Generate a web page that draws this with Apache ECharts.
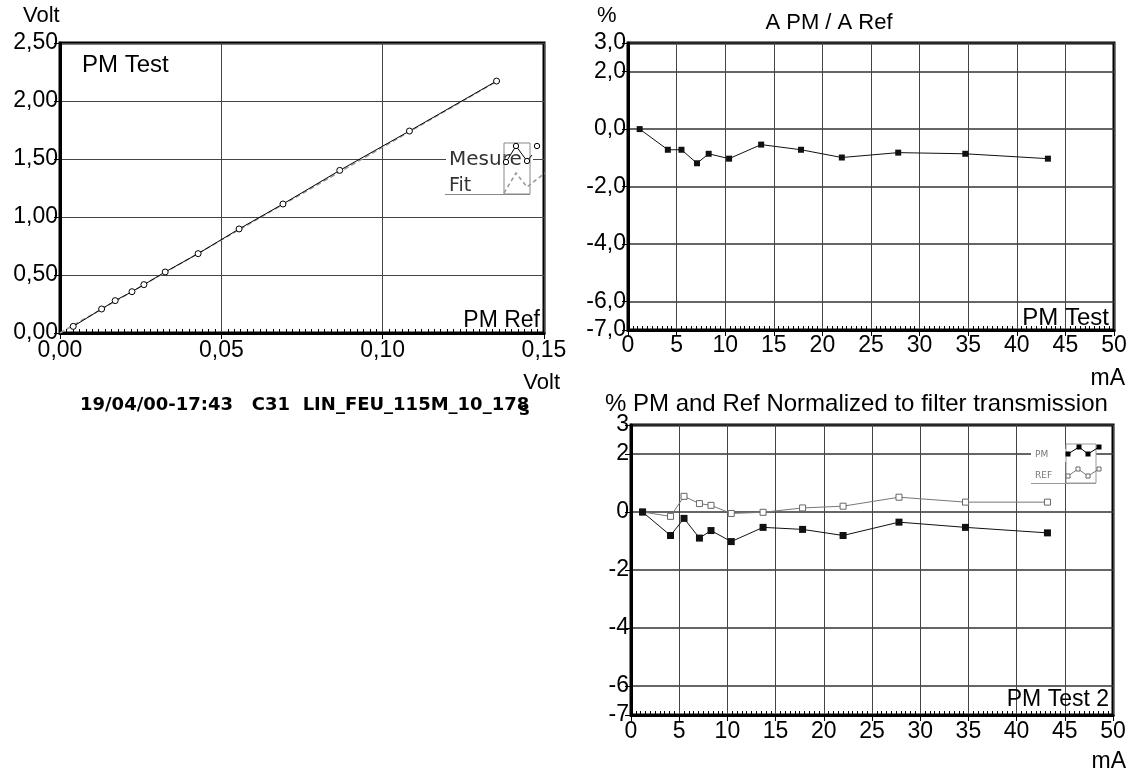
<!DOCTYPE html>
<html>
<head>
<meta charset="utf-8">
<script src="https://cdn.jsdelivr.net/npm/echarts@6/dist/echarts.min.js"></script>
<style>
html,body{margin:0;padding:0;background:#fff;}
#chart{width:1141px;height:776px;}
</style>
</head>
<body>
<div id="chart"></div>
<script>
// ---- Data ----
const voltRef  = [0.0041, 0.0129, 0.0171, 0.0223, 0.0260, 0.0326, 0.0428, 0.0555, 0.0691, 0.0867, 0.1083, 0.1353];
const voltTest = [0.057, 0.207, 0.279, 0.356, 0.417, 0.526, 0.684, 0.897, 1.112, 1.402, 1.741, 2.172];
const fitX = [0.0, 0.1353];
const fitY = [0.0, 2.168];
const currentMA = [1.2, 4.1, 5.5, 7.1, 8.3, 10.4, 13.7, 17.8, 22.0, 27.8, 34.7, 43.2];
const ratioPct  = [0.0, -0.72, -0.72, -1.19, -0.86, -1.03, -0.54, -0.72, -0.99, -0.82, -0.86, -1.03];
const pmNorm    = [0.0, -0.81, -0.22, -0.90, -0.64, -1.02, -0.53, -0.60, -0.81, -0.35, -0.53, -0.72];
const refNorm   = [0.0, -0.15, 0.54, 0.29, 0.23, -0.05, -0.01, 0.14, 0.20, 0.51, 0.34, 0.34];
const rightYTicks = [3, 2, 0, -2, -4, -6, -7];

const zip = (a, b) => a.map((v, i) => [v, b[i]]);
const comma = (v, d) => v.toFixed(d).replace('.', ',');

const FONT = 'Liberation Sans, Arial, sans-serif';
const LBL = {color: '#000', fontSize: 23, fontFamily: FONT};
const gridStyle = {show: true, borderColor: '#000', borderWidth: 3, backgroundColor: '#fff'};
const splitStyle = {show: true, lineStyle: {color: '#444', width: 1}};

function xAxisCfg(idx, min, max, interval, minorSplit, margin, fmt) {
  return {
    type: 'value', gridIndex: idx, min: min, max: max, interval: interval,
    axisLine: {show: true, onZero: false, lineStyle: {color: '#000', width: 3}},
    axisTick: {show: true, inside: false, length: 6, lineStyle: {color: '#000'}},
    minorTick: {show: true, splitNumber: minorSplit, length: -4, lineStyle: {color: '#000'}},
    axisLabel: Object.assign({margin: margin, formatter: fmt}, LBL),
    splitLine: splitStyle
  };
}
function txt(x, y, text, font, align, fill, z) {
  return {type: 'text', x: x, y: y, z: z || 50,
    style: {text: text, font: font, fill: fill || '#000', align: align || 'left', verticalAlign: 'middle'}};
}

const chart = echarts.init(document.getElementById('chart'));
chart.setOption({
  animation: false,
  backgroundColor: '#fff',
  grid: [
    Object.assign({left: 60, top: 43, width: 484, height: 290}, gridStyle),
    Object.assign({left: 628, top: 43, width: 486, height: 287}, gridStyle),
    Object.assign({left: 631, top: 425, width: 482, height: 290}, gridStyle)
  ],
  xAxis: [
    xAxisCfg(0, 0, 0.15, 0.05, 25, 6, v => comma(v, 2)),
    xAxisCfg(1, 0, 50, 5, 10, 4, v => String(v)),
    xAxisCfg(2, 0, 50, 5, 10, 5, v => String(v))
  ],
  yAxis: [
    {
      type: 'value', gridIndex: 0, min: 0, max: 2.5, interval: 0.5,
      axisLine: {show: true, onZero: false, lineStyle: {color: '#000', width: 3}},
      axisTick: {show: true, length: 6, lineStyle: {color: '#000'}},
      axisLabel: Object.assign({margin: 2, formatter: v => comma(v, 2)}, LBL),
      splitLine: splitStyle
    },
    {
      type: 'value', gridIndex: 1, min: -7, max: 3, interval: 1,
      axisLine: {show: true, onZero: false, lineStyle: {color: '#000', width: 3}},
      axisTick: {show: true, length: 6, customValues: rightYTicks, lineStyle: {color: '#000'}},
      axisLabel: Object.assign({margin: 2, customValues: rightYTicks, formatter: v => comma(v, 1)}, LBL),
      splitLine: {show: true, lineStyle: {color: '#333', width: 1.5}}
    },
    {
      type: 'value', gridIndex: 2, min: -7, max: 3, interval: 1,
      axisLine: {show: true, onZero: false, lineStyle: {color: '#000', width: 3}},
      axisTick: {show: true, length: 6, customValues: rightYTicks, lineStyle: {color: '#000'}},
      axisLabel: Object.assign({margin: 2, customValues: rightYTicks, formatter: v => String(v)}, LBL),
      splitLine: {show: true, lineStyle: {color: '#333', width: 1.5}}
    }
  ],
  series: [
    {
      name: 'Fit', type: 'line', xAxisIndex: 0, yAxisIndex: 0, data: zip(fitX, fitY),
      showSymbol: false, lineStyle: {color: '#999', width: 1.5, type: [5, 3]}, z: 3
    },
    {
      name: 'Mesure', type: 'line', xAxisIndex: 0, yAxisIndex: 0, data: zip(voltRef, voltTest),
      symbol: 'circle', symbolSize: 6, itemStyle: {color: '#fff', borderColor: '#000', borderWidth: 1},
      lineStyle: {color: '#000', width: 1}, z: 4
    },
    {
      name: 'A PM / A Ref', type: 'line', xAxisIndex: 1, yAxisIndex: 1, data: zip(currentMA, ratioPct),
      symbol: 'rect', symbolSize: 6, itemStyle: {color: '#111'},
      lineStyle: {color: '#111', width: 1}
    },
    {
      name: 'REF', type: 'line', xAxisIndex: 2, yAxisIndex: 2, data: zip(currentMA, refNorm),
      symbol: 'rect', symbolSize: 6, itemStyle: {color: '#fff', borderColor: '#666', borderWidth: 1},
      lineStyle: {color: '#777', width: 1}
    },
    {
      name: 'PM', type: 'line', xAxisIndex: 2, yAxisIndex: 2, data: zip(currentMA, pmNorm),
      symbol: 'rect', symbolSize: 7, itemStyle: {color: '#111'},
      lineStyle: {color: '#111', width: 1}
    }
  ],
  graphic: [
    // axis names / titles
    txt(23, 16, 'Volt', '22px ' + FONT),
    txt(560, 383, 'Volt', '22px ' + FONT, 'right'),
    txt(597, 16, '%', '22px ' + FONT),
    txt(829, 23, 'A PM / A Ref', '22px ' + FONT, 'center'),
    txt(1125, 379, 'mA', '23px ' + FONT, 'right'),
    txt(1126, 762, 'mA', '23px ' + FONT, 'right'),
    txt(605, 404, '% PM and Ref Normalized to filter transmission', '24px ' + FONT, 'left'),
    // corner labels
    txt(82, 65, 'PM Test', '24px ' + FONT),
    txt(540, 321, 'PM Ref', '23px ' + FONT, 'right'),
    txt(1109, 318, 'PM Test', '24px ' + FONT, 'right'),
    txt(1109, 700, 'PM Test 2', '23px ' + FONT, 'right'),
    // footer
    txt(80, 405, '19/04/00-17:43   C31  LIN_FEU_115M_10_178', 'bold 18px DejaVu Sans, sans-serif'),
    txt(519, 410, 's', 'bold 18px DejaVu Sans, sans-serif'),
    // left legend
    {type: 'rect', z: 60, shape: {x: 446, y: 150, width: 87, height: 19}, style: {fill: '#fff'}},
    txt(449, 159.5, 'Mesure', '20px DejaVu Sans, sans-serif', 'left', '#333', 61),
    txt(449, 186.5, 'Fit', '19px DejaVu Sans, sans-serif', 'left', '#333', 61),
    {type: 'rect', z: 62, shape: {x: 504, y: 143, width: 26, height: 51}, style: {fill: null, stroke: '#888', lineWidth: 1}},
    {type: 'line', z: 62, shape: {x1: 445, y1: 194.5, x2: 530, y2: 194.5}, style: {stroke: '#888', lineWidth: 1}},
    {type: 'polyline', z: 62, shape: {points: [[506, 162], [516, 146], [527, 161], [532, 155]]}, style: {stroke: '#000', lineWidth: 1, fill: null}},
    {type: 'circle', z: 63, shape: {cx: 506, cy: 162, r: 2.7}, style: {fill: '#fff', stroke: '#000'}},
    {type: 'circle', z: 63, shape: {cx: 516, cy: 146, r: 2.7}, style: {fill: '#fff', stroke: '#000'}},
    {type: 'circle', z: 63, shape: {cx: 527, cy: 161, r: 2.7}, style: {fill: '#fff', stroke: '#000'}},
    {type: 'circle', z: 63, shape: {cx: 537, cy: 146, r: 2.7}, style: {fill: '#fff', stroke: '#000'}},
    {type: 'polyline', z: 62, shape: {points: [[504, 193], [516, 173], [527, 187], [545, 173]]}, style: {stroke: '#999', lineWidth: 1.5, lineDash: [4, 3], fill: null}},
    // right legend
    {type: 'rect', z: 60, shape: {x: 1031, y: 449, width: 35, height: 13}, style: {fill: '#fff'}},
    {type: 'rect', z: 60, shape: {x: 1066, y: 444, width: 30, height: 39}, style: {fill: '#fff', stroke: '#999', lineWidth: 1}},
    txt(1035, 455, 'PM', '9px DejaVu Sans, sans-serif', 'left', '#777', 61),
    txt(1035, 476, 'REF', '9px DejaVu Sans, sans-serif', 'left', '#777', 61),
    {type: 'line', z: 61, shape: {x1: 1031, y1: 483.5, x2: 1096, y2: 483.5}, style: {stroke: '#999', lineWidth: 1}},
    {type: 'polyline', z: 62, shape: {points: [[1068, 454], [1079, 447], [1088, 454], [1099, 447]]}, style: {stroke: '#000', lineWidth: 1, fill: null}},
    {type: 'rect', z: 63, shape: {x: 1065.5, y: 451.5, width: 5, height: 5}, style: {fill: '#000'}},
    {type: 'rect', z: 63, shape: {x: 1076.5, y: 444.5, width: 5, height: 5}, style: {fill: '#000'}},
    {type: 'rect', z: 63, shape: {x: 1085.5, y: 451.5, width: 5, height: 5}, style: {fill: '#000'}},
    {type: 'rect', z: 63, shape: {x: 1096.5, y: 444.5, width: 5, height: 5}, style: {fill: '#000'}},
    {type: 'polyline', z: 62, shape: {points: [[1068, 476], [1078, 469], [1088, 476], [1099, 469]]}, style: {stroke: '#777', lineWidth: 1, fill: null}},
    {type: 'rect', z: 63, shape: {x: 1066, y: 474, width: 4, height: 4}, style: {fill: '#fff', stroke: '#666'}},
    {type: 'rect', z: 63, shape: {x: 1076, y: 467, width: 4, height: 4}, style: {fill: '#fff', stroke: '#666'}},
    {type: 'rect', z: 63, shape: {x: 1086, y: 474, width: 4, height: 4}, style: {fill: '#fff', stroke: '#666'}},
    {type: 'rect', z: 63, shape: {x: 1097, y: 467, width: 4, height: 4}, style: {fill: '#fff', stroke: '#666'}}
  ]
});
</script>
</body>
</html>
